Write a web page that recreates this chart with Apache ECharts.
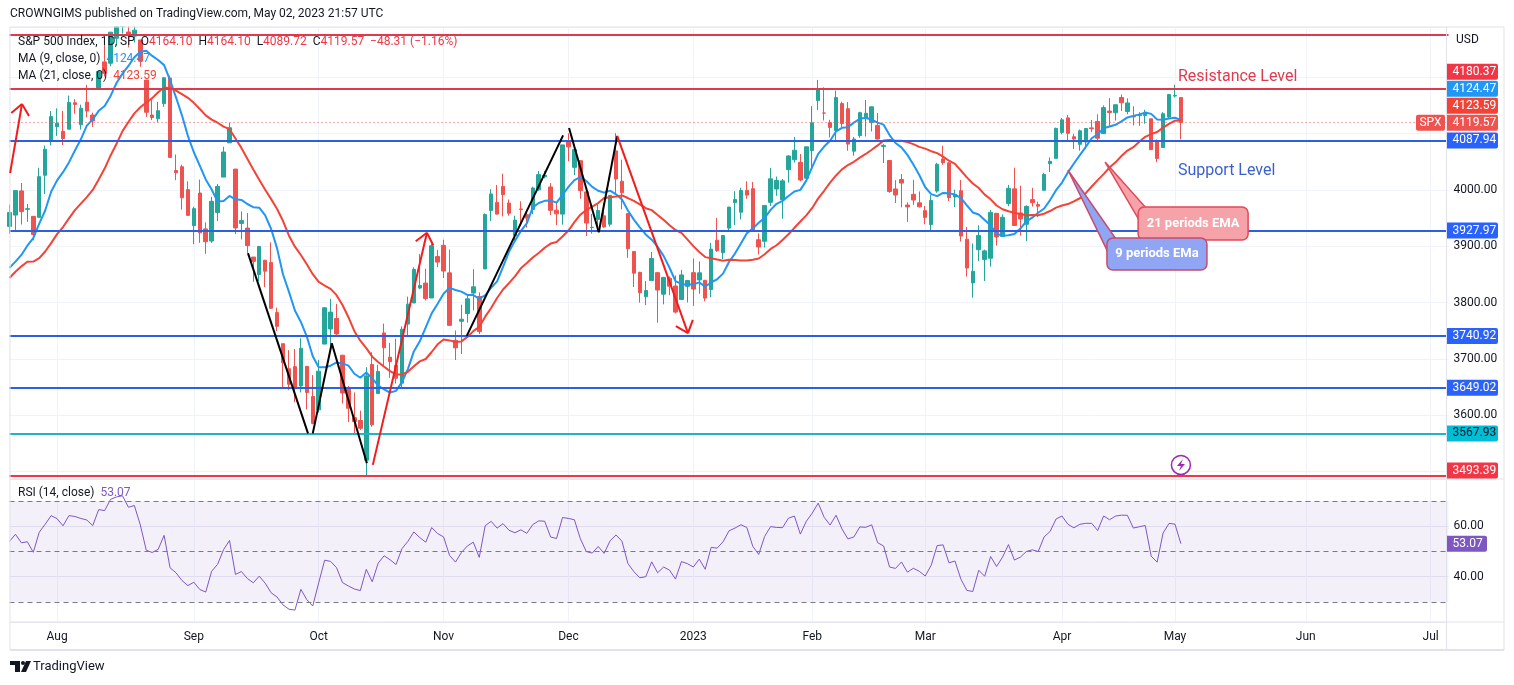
<!DOCTYPE html>
<html><head><meta charset="utf-8">
<script src="https://cdn.jsdelivr.net/npm/echarts@6/dist/echarts.min.js"></script>
<style>html,body{margin:0;padding:0;background:#fff;}#c{width:1514px;height:685px;}</style>
</head><body><div id="c"></div>
<script>
// ---------- DATA ----------
const HOLIDAYS = ['2022-09-05','2022-11-24','2022-12-26','2023-01-02','2023-01-16','2023-02-20','2023-04-07','2023-05-29','2023-06-19','2023-07-04'];
const dates = (function(){ const out=[]; const d=new Date(Date.UTC(2022,6,20));
  while(out.length<243){ const wd=d.getUTCDay(); const s=d.toISOString().slice(0,10);
    if(wd!==0&&wd!==6&&HOLIDAYS.indexOf(s)<0) out.push(s); d.setUTCDate(d.getUTCDate()+1);} return out; })();

// closes before the first visible bar (Jun 1 - Jul 19, 2022), used only for MA / RSI warm-up
const priorCloses = [4101.23,4176.82,4108.54,4121.43,4160.68,4115.77,4017.82,3900.86,3749.63,3735.48,3789.99,3666.77,3674.84,
  3764.79,3759.89,3795.73,3911.74,3900.11,3821.55,3818.83,3785.38,3825.33,3831.39,3845.08,3902.62,3899.38,3854.43,3818.80,3801.78,3790.38,3863.16,3830.85,3936.69];

const opens = [
 3935.32,3955.47,3998.43,3965.72,3953.22,3951.43,4026.13,4087.33,
 4112.38,4104.21,4107.96,4154.85,4115.87,4155.93,4133.11,4181.02,4227.40,4225.02,4269.37,4290.46,4280.40,4273.13,4266.31,4195.08,4133.09,4126.55,4153.26,4198.74,4034.58,4041.25,4000.67,
 3936.73,3994.66,3930.89,3909.43,3959.94,4022.94,4083.67,4037.12,3940.73,3932.41,3880.95,3849.91,3875.23,3871.40,3782.36,3727.14,3682.72,3686.44,3651.94,3687.01,3633.48,
 3609.78,3726.46,3753.25,3771.97,3706.74,3647.51,3595.86,3590.83,3520.37,3690.41,3638.65,3746.26,3703.11,3689.05,3657.10,3762.01,3799.44,3825.97,3834.69,3808.26,3881.85,
 3901.79,3852.90,3733.25,3766.98,3780.71,3817.02,3810.94,3859.89,3963.72,3977.97,4006.41,3976.82,3919.26,3966.39,3956.23,3965.51,4000.30,4023.34,4005.36,3964.19,3957.18,
 4087.14,4040.17,4052.02,3996.63,3933.28,3947.79,3954.17,3939.29,4069.38,4015.54,3958.37,3890.91,3853.79,3810.47,3839.49,3853.26,3815.11,3843.34,3829.56,3805.45,3829.06,
 3853.29,3840.36,3839.74,3823.37,3910.82,3888.57,3932.35,3977.57,3960.60,3999.28,4002.25,3911.84,3909.04,3978.14,4001.74,3982.71,4036.08,4053.72,4049.27,4020.85,
 4070.07,4158.68,4136.69,4119.57,4105.35,4153.47,4144.25,4068.92,4096.62,4126.70,4119.50,4114.75,4077.39,4052.35,4001.83,4018.60,3973.24,3992.36,3977.19,
 3963.34,3938.68,3998.02,4055.15,4048.26,3987.55,3998.66,3912.77,3835.12,3894.01,3876.74,3878.93,3958.69,3917.47,3975.89,4002.04,3959.21,3939.21,3982.93,3974.13,3999.53,4046.74,4056.18,
 4102.20,4128.03,4094.50,4081.15,4085.20,4110.29,4121.72,4100.04,4140.11,4137.17,4164.26,4139.33,4130.48,4132.14,4132.07,4126.43,4087.78,4075.29,4129.63,
 4166.79,4164.10];
const highs = [
 3974.13,3999.29,4012.44,3975.30,3953.22,4039.56,4078.95,4140.15,
 4144.95,4140.47,4167.66,4161.29,4151.58,4186.62,4137.30,4211.03,4257.91,4280.47,4301.79,4325.28,4302.18,4292.53,4266.31,4195.08,4159.77,4156.56,4200.54,4203.04,4062.99,4044.98,4015.37,
 3970.23,4018.43,3942.55,3987.89,4010.50,4076.81,4119.28,4037.12,3961.94,3959.14,3880.95,3900.45,3876.01,3907.07,3790.87,3727.14,3715.67,3717.53,3736.74,3687.01,3671.44,
 3698.35,3791.92,3806.91,3797.93,3706.74,3652.17,3640.66,3608.34,3685.41,3712.00,3689.73,3762.79,3728.58,3736.00,3757.89,3810.74,3862.85,3886.15,3859.95,3905.42,3893.73,
 3911.79,3894.44,3750.59,3796.34,3813.95,3859.40,3818.20,3958.33,4001.48,4008.97,4028.84,3983.09,3954.33,3979.89,3962.00,4005.88,4033.78,4034.02,4012.27,3976.77,4080.11,
 4100.51,4080.48,4052.45,4001.51,3957.57,3974.19,3977.02,3990.71,4100.96,4053.76,3958.37,3890.91,3854.86,3838.24,3889.82,3853.26,3845.80,3846.65,3848.32,3858.19,3839.85,
 3878.46,3873.16,3839.74,3906.19,3950.57,3919.83,3970.07,3997.76,4003.95,4015.39,4014.16,3922.94,3972.96,4039.31,4023.92,4019.55,4061.57,4094.21,4063.85,4077.16,
 4148.95,4195.44,4182.36,4124.63,4176.54,4156.85,4156.23,4094.36,4138.90,4159.77,4148.11,4136.54,4081.51,4052.35,4017.37,4028.30,3978.25,4018.05,3997.50,
 3971.73,3990.84,4048.29,4078.49,4050.00,4000.41,4017.81,3934.05,3905.05,3937.29,3894.26,3964.46,3958.91,3956.62,4009.08,4039.49,4007.66,3972.74,4003.83,3979.20,4030.59,4057.85,4110.75,
 4127.66,4133.13,4099.69,4107.32,4109.50,4124.26,4134.37,4150.26,4163.19,4151.72,4169.48,4162.57,4148.57,4138.02,4142.41,4126.43,4089.67,4138.24,4170.06,
 4186.92,4164.10];
const lows = [
 3922.03,3927.64,3938.85,3943.46,3910.74,3951.43,3992.97,4079.22,
 4096.02,4079.81,4107.96,4135.42,4107.31,4128.97,4112.09,4177.26,4201.41,4219.78,4256.90,4277.77,4253.08,4261.98,4218.70,4129.86,4124.03,4119.97,4147.59,4057.66,4017.42,3965.21,3954.53,
 3903.65,3906.21,3886.75,3906.03,3944.81,4022.94,4083.67,3921.73,3912.15,3888.28,3837.08,3838.50,3827.54,3789.49,3749.45,3647.47,3644.76,3623.29,3640.61,3610.40,3584.13,
 3604.93,3726.46,3722.66,3739.22,3620.73,3588.10,3568.45,3573.86,3491.58,3579.68,3638.65,3686.53,3666.51,3656.44,3647.42,3741.65,3799.44,3824.07,3803.79,3808.26,3863.18,
 3843.80,3758.68,3698.15,3708.84,3764.70,3786.28,3744.22,3859.89,3944.82,3956.40,3953.17,3954.34,3906.54,3935.98,3933.34,3956.88,3998.66,4020.76,3955.77,3937.65,3938.58,
 4050.87,4026.63,3984.49,3918.39,3922.68,3935.83,3933.04,3935.30,3993.03,3965.65,3879.45,3827.91,3800.04,3795.62,3839.49,3764.49,3797.01,3813.22,3780.78,3805.45,3800.34,
 3794.33,3815.77,3802.42,3809.56,3890.42,3877.29,3928.54,3937.56,3947.67,3984.57,3926.59,3885.54,3897.86,3971.64,3989.79,3949.06,4013.29,4048.70,4015.55,4020.44,
 4037.20,4141.88,4123.36,4093.38,4088.39,4111.67,4069.67,4060.79,4092.67,4095.01,4103.98,4089.49,4047.95,3995.19,3976.90,3969.19,3943.08,3973.55,3968.98,
 3939.05,3928.16,3995.17,4044.61,3980.31,3969.76,3908.70,3846.32,3808.86,3873.63,3838.24,3864.11,3901.27,3916.89,3971.19,3936.17,3919.05,3909.16,3970.49,3951.53,3999.53,4032.10,4056.18,
 4098.79,4086.87,4072.56,4069.84,4072.55,4102.61,4086.94,4099.40,4113.20,4123.18,4140.36,4134.49,4114.57,4113.86,4117.77,4071.38,4049.35,4075.29,4127.18,
 4164.12,4089.72];
const closes = [
 3959.90,3998.95,3961.63,3966.84,3921.05,4023.61,4072.43,4130.29,
 4118.63,4091.19,4155.17,4151.94,4145.19,4140.06,4122.47,4210.24,4207.27,4280.15,4297.14,4305.20,4274.04,4283.74,4228.48,4137.99,4128.73,4140.77,4199.12,4057.66,4030.61,3986.16,3955.00,
 3966.85,3924.26,3908.19,3979.87,4006.18,4067.36,4110.41,3932.69,3946.01,3901.35,3873.33,3899.89,3855.93,3789.93,3757.99,3693.23,3655.04,3647.29,3719.04,3640.47,3585.62,
 3678.43,3790.93,3783.28,3744.52,3639.66,3612.39,3588.84,3577.03,3669.91,3583.07,3677.95,3719.98,3695.16,3665.78,3752.75,3797.34,3859.11,3830.60,3807.30,3901.06,3871.98,
 3856.10,3759.69,3719.89,3770.55,3806.80,3828.11,3748.57,3956.37,3992.93,3957.25,3991.73,3958.79,3946.56,3965.34,3949.94,4003.58,4027.26,4026.12,3963.94,3957.63,4080.11,
 4076.57,4071.70,3998.84,3941.26,3933.92,3963.51,3934.38,3990.56,4019.65,3995.32,3895.75,3852.36,3817.66,3821.62,3878.44,3822.39,3844.82,3829.25,3783.22,3849.28,3839.50,
 3824.14,3852.97,3808.10,3895.08,3892.09,3919.25,3969.61,3983.17,3999.09,3990.97,3928.86,3898.85,3972.61,4019.81,4016.95,4016.22,4060.43,4070.56,4017.77,4076.60,
 4119.21,4179.76,4136.48,4111.08,4164.00,4117.86,4081.50,4090.46,4137.29,4136.13,4147.60,4090.41,4079.09,3997.34,3991.05,4012.32,3970.04,3982.24,3970.15,
 3951.39,3981.35,4045.64,4048.42,3986.37,3992.01,3918.32,3861.59,3855.76,3919.29,3891.93,3960.28,3916.64,3951.57,4002.87,3936.97,3948.72,3970.99,3977.53,3971.27,4027.81,4050.83,4109.31,
 4124.51,4100.60,4090.38,4105.02,4109.11,4108.94,4091.95,4146.22,4137.64,4151.32,4154.87,4154.52,4129.79,4133.52,4137.04,4071.63,4055.99,4135.35,4169.48,
 4167.88,4119.57];

// horizontal level drawings (prices)
const levelPrices = [4275.2, 4180.37, 4087.94, 3927.97, 3740.92, 3649.02, 3567.93, 3493.39];

// ---------- STYLE / LAYOUT CONFIG ----------
const levelStyle = [
  {line:'#dc3b4f', box:null},
  {line:'#dc3b4f', box:'#f23645', fg:'#fff'},
  {line:'#2b5fe6', box:'#2962ff', fg:'#fff'},
  {line:'#2b5fe6', box:'#2962ff', fg:'#fff'},
  {line:'#2b5fe6', box:'#2962ff', fg:'#fff'},
  {line:'#2b5fe6', box:'#2962ff', fg:'#fff'},
  {line:'#1fb5c6', box:'#00bcd4', fg:'#131722'},
  {line:'#f23645', box:'#f23645', fg:'#fff'}
];
const UP='#26a69a', DOWN='#ef5350', MA9C='#2196f3', MA21C='#f44336', RSIC='#7e57c2';
const FONT='Roboto, "Noto Sans", sans-serif';
const GL=9.5, GW=1439, T0=27, H0=452, T1=479, H1=143;
const MON=['Jan','Feb','Mar','Apr','May','Jun','Jul','Aug','Sep','Oct','Nov','Dec'];

// ---------- DERIVED ----------
const allC = priorCloses.concat(closes);
const P = priorCloses.length;
function sma(n){ return closes.map(function(_,i){ let s=0; for(let k=P+i-n+1;k<=P+i;k++) s+=allC[k]; return +(s/n).toFixed(2); }); }
function rsi(n){ let up=0,dn=0; const out=[];
  for(let k=1;k<allC.length;k++){ const ch=allC[k]-allC[k-1]; const u=Math.max(ch,0), d=Math.max(-ch,0);
    if(k<=n){ up+=u/n; dn+=d/n; } else { up=(up*(n-1)+u)/n; dn=(dn*(n-1)+d)/n; }
    if(k>=P) out.push(+(dn===0?100:100-100/(1+up/dn)).toFixed(2)); }
  return out; }
const ma9 = sma(9), ma21 = sma(21), rsi14 = rsi(14);
const candles = closes.map(function(c,i){ return [opens[i], c, lows[i], highs[i]]; });
const monthStart = {};
dates.forEach(function(d,i){ if(i>0 && d.slice(5,7)!==dates[i-1].slice(5,7)) monthStart[i]=true; });
function isMS(i){ return !!monthStart[i]; }
function monthLabel(v){ const m=+v.slice(5,7); return m===1 ? v.slice(0,4) : MON[m-1]; }

const chart = echarts.init(document.getElementById('c'), null, {renderer:'canvas'});
const option = {
  animation:false, backgroundColor:'#ffffff',
  textStyle:{fontFamily:FONT},
  grid:[{left:GL, top:T0, width:GW, height:H0},{left:GL, top:T1, width:GW, height:H1}],
  xAxis:[
    {type:'category', gridIndex:0, data:dates, boundaryGap:false, axisLine:{show:false}, axisTick:{show:false}, axisLabel:{show:false},
     splitLine:{show:true, interval:isMS, lineStyle:{color:'#f0f3fa', width:1}}},
    {type:'category', gridIndex:1, data:dates, boundaryGap:false, axisLine:{show:false}, axisTick:{show:false},
     axisLabel:{show:true, interval:isMS, formatter:monthLabel, color:'#131722', fontSize:12, margin:9, fontFamily:FONT},
     splitLine:{show:true, interval:isMS, lineStyle:{color:'#f0f3fa', width:1}}}
  ],
  yAxis:[
    {type:'value', gridIndex:0, position:'right', min:3486.95, max:4289.37, splitNumber:8,
     axisLine:{show:false}, axisTick:{show:false}, splitLine:{lineStyle:{color:'#f0f3fa'}},
     axisLabel:{showMinLabel:false, showMaxLabel:false, margin:5, color:'#131722', fontSize:12, fontFamily:FONT,
       formatter:function(v){ return (v>=3550 && v<=4050) ? v.toFixed(2) : ''; }}},
    {type:'value', gridIndex:1, position:'right', min:22.08, max:78.7, splitNumber:3,
     axisLine:{show:false}, axisTick:{show:false}, splitLine:{lineStyle:{color:'#ebe8f3'}},
     axisLabel:{showMinLabel:false, showMaxLabel:false, margin:5, color:'#131722', fontSize:12, fontFamily:FONT,
       formatter:function(v){ return (Math.abs(v-40)<0.01||Math.abs(v-60)<0.01) ? v.toFixed(2) : ''; }}}
  ],
  series:[
    {type:'candlestick', name:'SPX', xAxisIndex:0, yAxisIndex:0, data:candles, barWidth:4, silent:true, clip:true,
     itemStyle:{color:UP, color0:DOWN, borderColor:UP, borderColor0:DOWN, borderWidth:1}},
    {type:'line', name:'MA9', xAxisIndex:0, yAxisIndex:0, data:ma9, showSymbol:false, silent:true, clip:true, lineStyle:{color:MA9C, width:2}},
    {type:'line', name:'MA21', xAxisIndex:0, yAxisIndex:0, data:ma21, showSymbol:false, silent:true, clip:true, lineStyle:{color:MA21C, width:2}},
    {type:'line', name:'levels', xAxisIndex:0, yAxisIndex:0, data:[], silent:true,
     markLine:{silent:true, symbol:['none','none'], label:{show:false}, animation:false,
       data: levelPrices.map(function(p,i){ return {yAxis:p, lineStyle:{color:levelStyle[i].line, width:2, type:'solid'}}; })
         .concat([{yAxis:closes[closes.length-1], lineStyle:{color:DOWN, width:1, type:[1,3]}}])}},
    {type:'line', name:'RSI', xAxisIndex:1, yAxisIndex:1, data:rsi14, showSymbol:false, silent:true, lineStyle:{color:RSIC, width:1},
     markArea:{silent:true, itemStyle:{color:'rgba(126,87,194,0.09)'}, data:[[{yAxis:70},{yAxis:30}]]},
     markLine:{silent:true, symbol:['none','none'], label:{show:false}, animation:false,
       data:[70,50,30].map(function(v){ return {yAxis:v, lineStyle:{color:'#787b86', width:1, type:[5,4]}}; })}}
  ]
};
chart.setOption(option);

// ---------- OVERLAYS ----------
function toPx(i,p,g){ g=g||0; const i0=Math.floor(i), f=i-i0;
  const a=chart.convertToPixel({xAxisIndex:g,yAxisIndex:g},[i0,p]);
  const b=chart.convertToPixel({xAxisIndex:g,yAxisIndex:g},[i0+1,p]);
  return [a[0]+(b[0]-a[0])*f, a[1]]; }
const G=[]; const Z=100;
function L(x1,y1,x2,y2,stroke,w,z){ G.push({type:'line', silent:true, z:z||Z, shape:{x1:x1,y1:y1,x2:x2,y2:y2}, style:{stroke:stroke, lineWidth:w||1}}); }
function TX(x,y,text,fill,font,align,z,extra){ const st={text:text,x:x,y:y,fill:fill,font:font,textAlign:align||'left',textVerticalAlign:'middle'};
  if(extra) for(const k in extra) st[k]=extra[k];
  G.push({type:'text', silent:true, z:z||Z+2, style:st}); }
function R(x,y,w,h,fill,r,stroke,z){ G.push({type:'rect', silent:true, z:z||Z+1, shape:{x:x,y:y,width:w,height:h,r:r||0}, style:{fill:fill, stroke:stroke||null, lineWidth:stroke?1.5:0}}); }
function arrowHead(S,T,color){ const dx=T[0]-S[0], dy=T[1]-S[1], l=Math.hypot(dx,dy), ux=dx/l, uy=dy/l, len=14, a=40*Math.PI/180;
  [1,-1].forEach(function(s){ const c=Math.cos(a), sn=Math.sin(a)*s; const rx=-(ux*c-uy*sn), ry=-(ux*sn+uy*c);
    L(T[0],T[1],T[0]+rx*len,T[1]+ry*len,color,2); }); }

// white mask above the price pane (clips candles that exceed the pane top)
R(0,0,1446,T0-0.5,'#ffffff',0,null,Z-10);

// trend drawings in [barIndex, price]
const blackLines=[[[40.1,3888],[50.2,3567.93]],[[51.0,3567.93],[54.2,3728]],[[54.2,3728],[60.1,3515]],
  [[76.9,3740.92],[93.1,4097]],[[94.1,4110],[99.1,3925]],[[99.1,3925],[102.2,4096]]];
const redArrows=[[[0.1,4030],[2.1,4152.7]],[[61.1,3512],[70.2,3924]],[[102.2,4096],[114.1,3746]]];
blackLines.forEach(function(s){ const a=toPx(s[0][0],s[0][1]), b=toPx(s[1][0],s[1][1]); L(a[0],a[1],b[0],b[1],'#000',2); });
redArrows.forEach(function(s){ const a=toPx(s[0][0],s[0][1]), b=toPx(s[1][0],s[1][1]); L(a[0],a[1],b[0],b[1],'#f21c1c',2); arrowHead(a,b,'#f21c1c'); });

// text drawings
(function(){ const a=toPx(196.5,4201); TX(a[0],a[1],'Resistance Level','#dc3c50','16px '+FONT); })();
(function(){ const a=toPx(196.5,4034.3); TX(a[0],a[1],'Support Level','#3a5fd0','16px '+FONT); })();

// callouts
function callout(tip, box, base, fill, stroke, text){ const t=toPx(tip[0],tip[1]);
  G.push({type:'polygon', silent:true, z:Z+3, shape:{points:[[t[0],t[1]],[t[0]+base[0][0],t[1]+base[0][1]],[t[0]+base[1][0],t[1]+base[1][1]]]}, style:{fill:fill, stroke:stroke, lineWidth:1.5}});
  G.push({type:'rect', silent:true, z:Z+4, shape:{x:t[0]+box[0],y:t[1]+box[1],width:box[2],height:box[3],r:6}, style:{fill:fill, stroke:stroke, lineWidth:1.5}});
  G.push({type:'polygon', silent:true, z:Z+5, shape:{points:[[t[0]+base[0][0]-1,t[1]+base[0][1]+2],[t[0]+base[1][0]+1,t[1]+base[1][1]-1],[t[0]+base[0][0]+8,t[1]+base[0][1]+4]]}, style:{fill:fill}});
  TX(t[0]+box[0]+box[2]/2, t[1]+box[1]+box[3]/2, text, '#ffffff', 'bold 13px '+FONT, 'center', Z+6);
}
callout([184.25,4049.7],[33,45,110,33],[[41,46],[34,58]],'#f5a3a9','#e2475a','21 periods EMA');
callout([178.0,4035.5],[39,68,100,32],[[48,69],[39,80]],'#90a6f4','#c94a6a','9 periods EMa');

// earnings-style marker
(function(){ const c=toPx(197,3512); G.push({type:'circle', silent:true, z:Z, shape:{cx:c[0],cy:c[1],r:9.5}, style:{fill:'#fff', stroke:'#9c27b0', lineWidth:1.5}});
  const x=c[0], y=c[1]; G.push({type:'polygon', silent:true, z:Z+1, shape:{points:[[x+2,y-6],[x-4,y+1],[x,y+1],[x-2,y+6],[x+4,y-1],[x,y-1]]}, style:{fill:'#9c27b0'}}); })();

// frame
const FC='#e0e3eb';
L(10,27,1504,27,FC,1,Z-5); L(10,27,10,650,FC,1,Z-5); L(1504,27,1504,650,FC,1,Z-5); L(10,650,1504,650,FC,2,Z-5);
L(1446.5,27,1446.5,650,FC,1,Z-5); L(10,479,1504,479,FC,1,Z-5); L(10,622,1504,622,FC,1,Z-5);

// price label boxes (stacked bottom-up to avoid overlap)
const lastC=closes[closes.length-1], prevC=closes[closes.length-2];
const tags=[];
levelPrices.forEach(function(p,i){ if(levelStyle[i].box) tags.push({v:p, bg:levelStyle[i].box, fg:levelStyle[i].fg}); });
tags.push({v:ma9[ma9.length-1], bg:MA9C, fg:'#fff'});
tags.push({v:ma21[ma21.length-1], bg:MA21C, fg:'#fff'});
tags.push({v:lastC, bg:DOWN, fg:'#fff', spx:true});
tags.forEach(function(t){ t.y=toPx(0,t.v)[1]; t.y=Math.min(t.y, T0+H0-8.5); });
tags.sort(function(a,b){ return b.y-a.y; });
const BH=17; let prevY=1e9;
tags.forEach(function(t){ if(t.y>prevY-BH) t.y=prevY-BH; prevY=t.y;
  R(1447,t.y-8,51,16,t.bg,[0,2,2,0],null,Z+10);
  TX(1452.5,t.y,t.v.toFixed(2),t.fg,'12px '+FONT,'left',Z+11);
  if(t.spx){ R(1416,t.y-8,29,16,t.bg,2,null,Z+10); TX(1430.5,t.y,'SPX','#fff','12px '+FONT,'center',Z+11); } });
// RSI value box
(function(){ const v=rsi14[rsi14.length-1]; const y=toPx(0,v,1)[1]; R(1447,y-8,40,16,RSIC,[0,2,2,0],null,Z+10); TX(1452.5,y,v.toFixed(2),'#fff','12px '+FONT,'left',Z+11); })();
TX(1456,40,'USD','#131722','12px '+FONT,'left');

// header + legends
TX(10,14,'CROWNGIMS published on TradingView.com, May 02, 2023 21:57 UTC','#131722','12px '+FONT);
const n=closes.length-1, chg=lastC-prevC, pct=chg/prevC*100;
function sg(v){ return (v<0?'\u2212':'+')+Math.abs(v).toFixed(2); }
const LF='12px '+FONT;
const rich={d:{fill:'#131722', font:LF}, r:{fill:'#f23645', font:LF}, b:{fill:MA9C, font:LF}, o:{fill:MA21C, font:LF}, p:{fill:RSIC, font:LF}};
TX(18,42,'{d|S&P 500 Index, 1D, SP  O}{r|'+opens[n].toFixed(2)+'}{d|  H}{r|'+highs[n].toFixed(2)+'}{d|  L}{r|'+lows[n].toFixed(2)+'}{d|  C}{r|'+lastC.toFixed(2)+'}{r|  '+sg(chg)+' ('+sg(pct)+'%)}','#131722',LF,'left',Z+2,{rich:rich});
TX(18,59,'{d|MA (9, close, 0)  }{b|'+ma9[n].toFixed(2)+'}','#131722',LF,'left',Z+2,{rich:rich});
TX(18,76,'{d|MA (21, close, 0)  }{o|'+ma21[n].toFixed(2)+'}','#131722',LF,'left',Z+2,{rich:rich});
TX(18,493,'{d|RSI (14, close)  }{p|'+rsi14[n].toFixed(2)+'}','#131722',LF,'left',Z+2,{rich:rich});

// TradingView logo
R(10,661,10,4,'#131722',0,null,Z); R(15,661,5,11,'#131722',0,null,Z);
G.push({type:'circle', silent:true, z:Z, shape:{cx:23,cy:663,r:2}, style:{fill:'#131722'}});
G.push({type:'polygon', silent:true, z:Z, shape:{points:[[26,661],[31,661],[26,672],[21,672]]}, style:{fill:'#131722'}});
TX(33,667,'TradingView','#131722','13px '+FONT);

if(!(opens.length===closes.length && highs.length===closes.length && lows.length===closes.length && closes.length===198)){
  TX(600,14,'LEN MISMATCH '+opens.length+' '+highs.length+' '+lows.length+' '+closes.length,'#f00','14px '+FONT);
}
chart.setOption({graphic:{elements:G}});
</script></body></html>
